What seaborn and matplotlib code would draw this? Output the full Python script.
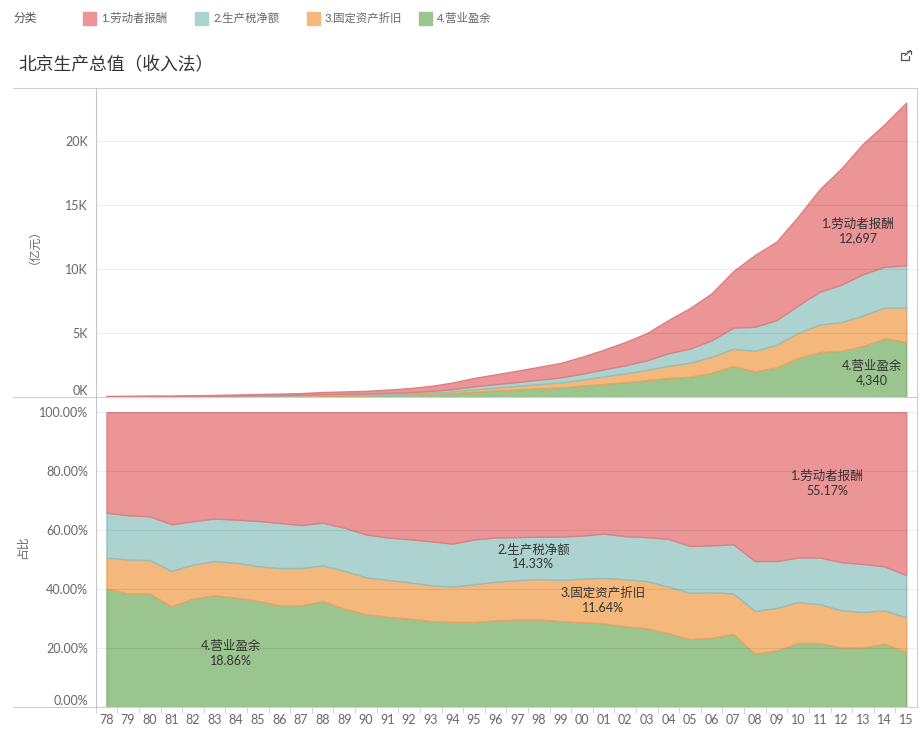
import numpy as np
import pandas as pd
import seaborn as sns
import matplotlib.pyplot as plt
from matplotlib.lines import Line2D
from matplotlib.patches import Rectangle
from matplotlib.colors import to_rgba

# Beijing GDP by income approach (亿元), 1978-2015
years = list(range(1978, 2016))
labor = [37.0, 41.9, 49.0, 52.8, 57.2, 65.9, 78.8, 94.6, 106.8, 124.8,
         153.4, 178.3, 207.3, 253.9, 304.9, 387.3, 509.7, 649.8, 758.6, 878.0,
         1000.3, 1127.3, 1321.6, 1524.0, 1812.3, 2118.0, 2588.2, 3157.2, 3661.1, 4401.5,
         5601.9, 6125.1, 6943.9, 7996.0, 9082.7, 10177.6, 11134.7, 12697.2]
tax = [16.5, 18.0, 20.7, 22.0, 22.8, 26.4, 31.6, 39.3, 43.6, 47.7,
       59.5, 66.6, 72.6, 86.2, 103.5, 132.0, 166.1, 229.2, 268.4, 303.0,
       342.1, 393.6, 461.6, 556.2, 630.0, 746.1, 977.4, 1108.2, 1290.7, 1644.4,
       1878.4, 1932.3, 2131.2, 2567.8, 2914.3, 3227.5, 3178.3, 3298.0]
depreciation = [11.4, 13.8, 15.7, 16.7, 17.8, 21.2, 25.6, 30.3, 35.9, 41.2,
                49.6, 58.4, 62.6, 74.9, 87.2, 107.2, 137.4, 191.5, 234.4, 276.1,
                325.5, 372.2, 464.8, 571.0, 686.1, 801.2, 953.2, 1087.2, 1250.1, 1349.0,
                1611.7, 1750.0, 1961.8, 2145.3, 2252.8, 2376.1, 2410.4, 2678.9]
surplus = [43.8, 46.4, 53.7, 47.7, 57.2, 69.6, 80.6, 92.8, 98.6, 113.1,
           147.7, 152.8, 158.3, 183.9, 213.4, 259.7, 332.1, 437.2, 527.8, 618.5,
           708.0, 784.5, 913.7, 1056.8, 1186.6, 1341.9, 1514.3, 1616.9, 1915.8, 2451.9,
           2022.9, 2345.5, 3076.8, 3542.9, 3629.5, 4019.6, 4607.5, 4340.4]

categories = ["1.劳动者报酬", "2.生产税净额", "3.固定资产折旧", "4.营业盈余"]
colors = ["#EB9597", "#ACD3CF", "#F5B87C", "#9BC58E"]
edge_colors = ["#DE7F82", "#93C0BB", "#EBA465", "#84B676"]

df = pd.DataFrame({
    "年份": years * 4,
    "分类": np.repeat(categories, len(years)),
    "值": labor + tax + depreciation + surplus,
})

sns.set_theme(style="white")
plt.rcParams["font.family"] = ["Lato", "Noto Sans CJK SC", "DejaVu Sans"]

W, H = 921, 734
fig = plt.figure(figsize=(W / 100, H / 100), dpi=100)


def px(x, y):
    return x / W, 1 - y / H


ax_top = fig.add_axes([95.7 / W, 1 - 397.3 / H, (917 - 95.7) / W, (397.3 - 87.5) / H])
ax_bot = fig.add_axes([95.7 / W, 1 - 707.3 / H, (917 - 95.7) / W, (707.3 - 398) / H])

for ax, mult in ((ax_top, "stack"), (ax_bot, "fill")):
    sns.histplot(data=df, x="年份", weights="值", hue="分类", hue_order=categories,
                 palette=colors, multiple=mult, element="poly", discrete=True,
                 alpha=1, legend=False, ax=ax)
    # colour each band's outline and stack them bottom-up
    for coll in ax.collections:
        fc = coll.get_facecolor()[0]
        for i, c in enumerate(colors):
            if np.allclose(fc, to_rgba(c), atol=0.01):
                coll.set_edgecolor(edge_colors[i])
                coll.set_linewidth(1.0)
                coll.set_zorder(1.4 - i * 0.1)
    ax.set_xlim(1977.52, 2015.5)
    ax.set_xlabel("")
    ax.set_ylabel("")
    for s in ax.spines.values():
        s.set_visible(False)
    ax.grid(axis="y", color="black", alpha=0.07, lw=0.8)
    ax.grid(axis="x", visible=False)
    ax.set_axisbelow(False)
    ax.tick_params(axis="y", length=0, pad=5.5, labelsize=9, labelcolor="#666666")

# top panel
ax_top.set_ylim(0, 24200)
ax_top.set_yticks([0, 5000, 10000, 15000, 20000], ["0K", "5K", "10K", "15K", "20K"])
ax_top.set_xticks([])
ax_top.get_yticklabels()[0].set_va("bottom")
ax_top.text(2012.8, 13000, f"{categories[0]}\n{labor[-1]:,.0f}", ha="center", va="center",
            fontsize=9, color="#333333", linespacing=1.3)
ax_top.text(2013.4, 1900, f"{categories[3]}\n{surplus[-1]:,.0f}", ha="center", va="center",
            fontsize=9, color="#333333", linespacing=1.3)

# bottom panel (shares)
ax_bot.set_ylim(0, 1.0485)
ax_bot.set_yticks([0, 0.2, 0.4, 0.6, 0.8, 1.0],
                  ["0.00%", "20.00%", "40.00%", "60.00%", "80.00%", "100.00%"])
ax_bot.get_yticklabels()[0].set_va("bottom")
ax_bot.set_xticks(years, [f"{y % 100:02d}" for y in years])
ax_bot.set_xticks([y + 0.5 for y in years[:-1]] + [1977.5], minor=True)
ax_bot.tick_params(axis="x", which="major", length=0, pad=4.5, labelsize=9, labelcolor="#666666")
ax_bot.tick_params(axis="x", which="minor", length=4, width=0.7, color="#d4d4d4", bottom=True)

total_last = labor[-1] + tax[-1] + depreciation[-1] + surplus[-1]
ann = [(categories[0], labor[-1], 2011.35, 0.760),
       (categories[1], tax[-1], 1997.75, 0.510),
       (categories[2], depreciation[-1], 2000.99, 0.364),
       (categories[3], surplus[-1], 1983.74, 0.181)]
for name, v, x, y in ann:
    ax_bot.text(x, y, f"{name}\n{v / total_last:.2%}", ha="center", va="center",
                fontsize=9, color="#333333", linespacing=1.3)

# frame lines
line_c = "#cfcfcf"
for y in (87.5, 397.3, 707.3):
    fig.add_artist(Line2D([13 / W, 917 / W], [1 - y / H] * 2, color=line_c, lw=0.8))
fig.add_artist(Line2D([917 / W] * 2, [1 - 87.5 / H, 1 - 707.3 / H], color=line_c, lw=0.8))
fig.add_artist(Line2D([95.7 / W] * 2, [1 - 87.5 / H, 1 - 707.3 / H], color="#c4c4c4", lw=0.8))

# axis titles
fig.text(*px(28, 241), "（亿元）", rotation=90, ha="center", va="center", fontsize=8.5, color="#666666")
fig.text(*px(22, 547), "占比", rotation=90, ha="center", va="center", fontsize=8.5, color="#666666")

# legend row
fig.text(*px(13, 18.5), "分类", ha="left", va="center", fontsize=8.5, color="#555555")
for x0, name, c in zip([83, 195, 307, 419], categories, colors):
    x, y = px(x0, 25)
    fig.add_artist(Rectangle((x, y), 13 / W, 13 / H, color=c, transform=fig.transFigure))
    fig.text(*px(x0 + 18, 18.5), name, ha="left", va="center", fontsize=8.2, color="#666666")

# title
fig.text(*px(18, 65), "北京生产总值（收入法）", ha="left", va="center", fontsize=12.8, color="#333333")

# small external-link icon
ic = "#555555"
for xs, ys in (([901, 901, 909, 909], [53, 60, 60, 56]), ([901, 905], [53, 53]), ([905, 910.5], [55.5, 50.5])):
    fig.add_artist(Line2D([x / W for x in xs], [1 - y / H for y in ys], color=ic, lw=0.9))
fig.add_artist(Line2D([907 / W, 910.5 / W, 910.5 / W], [1 - 50.5 / H, 1 - 50.5 / H, 1 - 54 / H], color=ic, lw=0.9))

fig.savefig("out.png", dpi=100)
